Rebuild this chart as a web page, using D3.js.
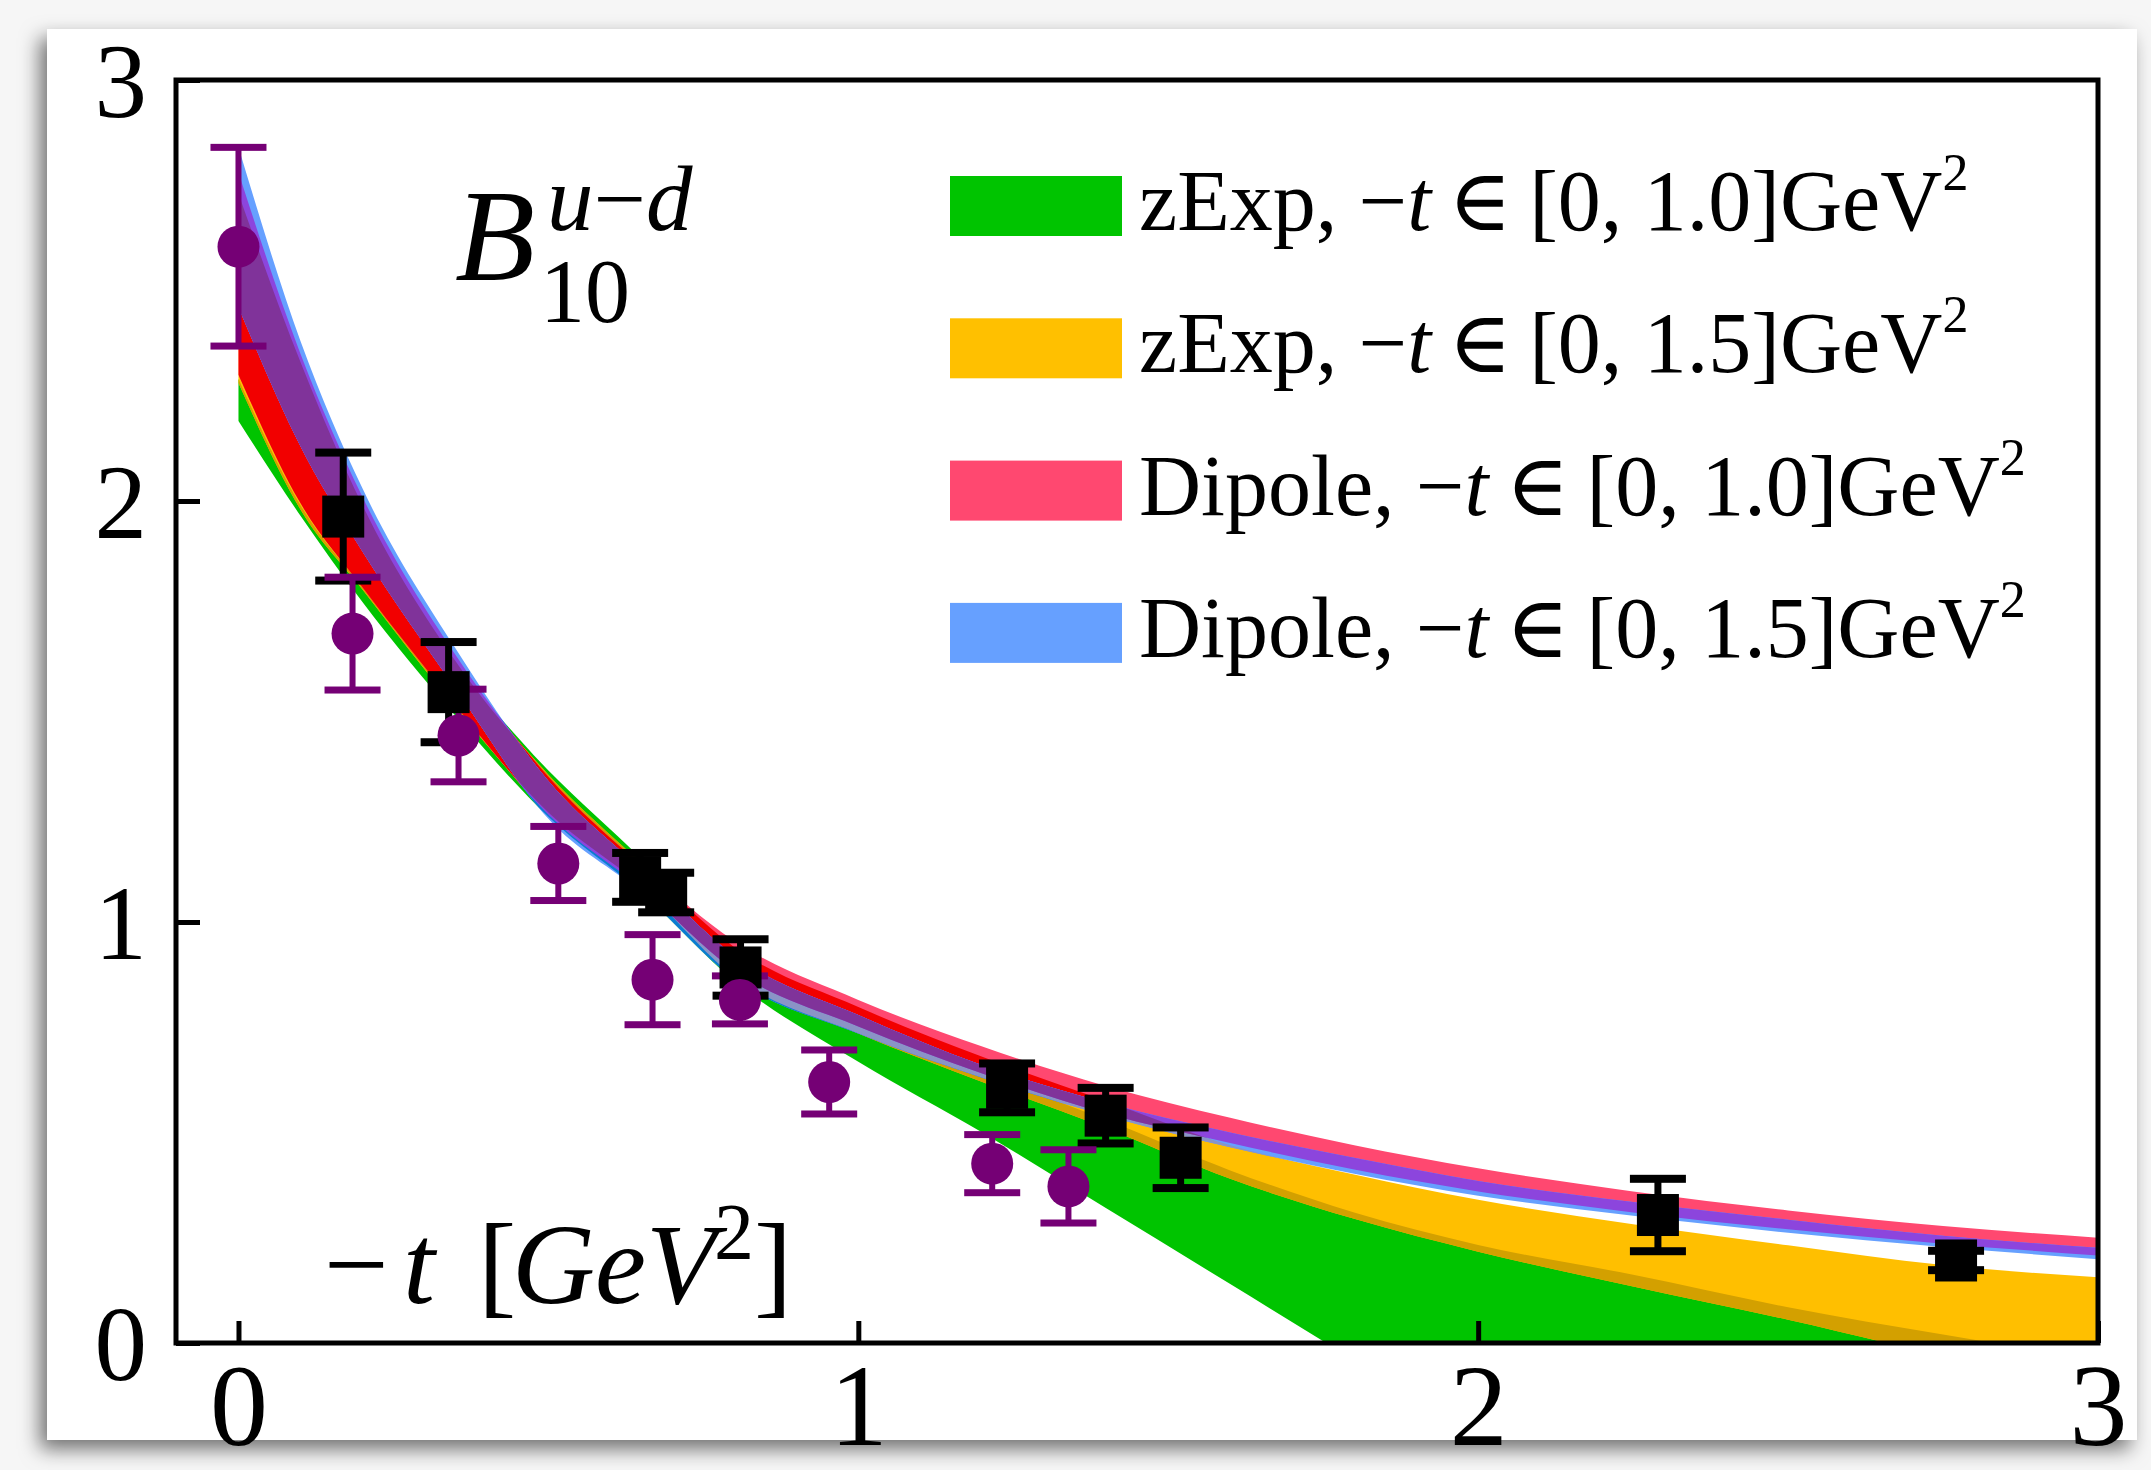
<!DOCTYPE html>
<html>
<head>
<meta charset="utf-8">
<script src="https://cdn.jsdelivr.net/npm/d3@7"></script>
<style>
  body { margin: 0; background: #f6f6f6; }
  svg { display: block; }
</style>
</head>
<body>
<div id="chart"></div>
<script>
// band grid in -t (GeV^2) and the lower / upper edges of each fit band
const tGrid    = [0, 0.1, 0.2, 0.35, 0.5, 0.65, 0.8, 1.0, 1.2, 1.4, 1.6, 1.8, 2.0, 2.25, 2.5, 2.75, 3.0];
const greenLo  = [2.19, 1.965, 1.76, 1.49, 1.25, 1.07, 0.86, 0.668, 0.50, 0.32, 0.14, -0.04, -0.21, -0.43, -0.65, -0.87, -1.09];
const greenHi  = [2.29, 1.99, 1.80, 1.60, 1.36, 1.15, 0.92, 0.76, 0.64, 0.53, 0.41, 0.31, 0.233, 0.162, 0.085, 0.02, -0.04];
const orangeLo = [2.28, 1.98, 1.79, 1.51, 1.26, 1.085, 0.87, 0.735, 0.62, 0.51, 0.39, 0.295, 0.217, 0.134, 0.055, -0.03, -0.1];
const orangeHi = [2.73, 2.33, 1.99, 1.62, 1.35, 1.14, 0.94, 0.798, 0.68, 0.575, 0.47, 0.40, 0.34, 0.282, 0.232, 0.185, 0.156];
const pinkLo   = [2.30, 1.995, 1.795, 1.515, 1.255, 1.08, 0.885, 0.752, 0.64, 0.545, 0.475, 0.412, 0.36, 0.31, 0.27, 0.236, 0.208];
const pinkHi   = [2.78, 2.35, 2.01, 1.635, 1.345, 1.135, 0.955, 0.815, 0.704, 0.61, 0.535, 0.47, 0.415, 0.36, 0.315, 0.278, 0.25];
const blueLo   = [2.46, 2.13, 1.88, 1.555, 1.245, 1.07, 0.865, 0.735, 0.63, 0.54, 0.465, 0.402, 0.35, 0.302, 0.262, 0.228, 0.199];
const blueHi   = [2.84, 2.38, 2.03, 1.65, 1.335, 1.125, 0.92, 0.779, 0.66, 0.57, 0.50, 0.44, 0.385, 0.335, 0.293, 0.255, 0.226];

// lattice points (purple circles)
const circT   = [0, 0.184, 0.355, 0.516, 0.668, 0.809, 0.953, 1.216, 1.339];
const circV   = [2.604, 1.685, 1.443, 1.139, 0.863, 0.815, 0.620, 0.426, 0.372];
const circErr = [0.236, 0.134, 0.11, 0.088, 0.107, 0.057, 0.076, 0.069, 0.087];

// lattice points (black squares)
const sqT   = [0.169, 0.339, 0.648, 0.690, 0.810, 1.240, 1.399, 1.520, 2.290, 2.771];
const sqV   = [1.963, 1.546, 1.106, 1.070, 0.892, 0.606, 0.540, 0.440, 0.304, 0.196];
const sqErr = [0.152, 0.119, 0.058, 0.047, 0.067, 0.058, 0.066, 0.072, 0.086, 0.023];

const xTicks = [0, 1, 2, 3];
const yTicks = [0, 1, 2, 3];

const legendLabels = ["zExp, ", "zExp, ", "Dipole, ", "Dipole, "];
const legendRanges = ["1.0", "1.5", "1.0", "1.5"];
const legendColors = ["#00c400", "#ffc000", "#ff4870", "#66a0ff"];

const W = 2151, H = 1470;
const serif = "'Liberation Serif', 'Times New Roman', 'DejaVu Serif', serif";

const svg = d3.select("#chart").append("svg")
    .attr("width", W)
    .attr("height", H);

const defs = svg.append("defs");

// drop shadow for the white card
const f = defs.append("filter").attr("id", "shadow")
    .attr("x", "-5%").attr("y", "-5%").attr("width", "110%").attr("height", "112%");
f.append("feDropShadow")
    .attr("dx", -7).attr("dy", 9).attr("stdDeviation", 10)
    .attr("flood-color", "#000").attr("flood-opacity", 0.55);

svg.append("rect")
    .attr("x", 47).attr("y", 29)
    .attr("width", 2090).attr("height", 1411)
    .attr("fill", "#fff")
    .attr("filter", "url(#shadow)");

// scales
const x = d3.scaleLinear().domain([-0.1008, 3]).range([176, 2098]);
const y = d3.scaleLinear().domain([0, 3]).range([1343, 80]);

const area = d3.area()
    .x(d => x(d.t))
    .y0(d => y(d.lo))
    .y1(d => y(d.hi))
    .curve(d3.curveMonotoneX);

function rows(lo, hi) {
  return tGrid.map((t, i) => ({ t: t, lo: lo[i], hi: hi[i] }));
}
const bands = {
  green: rows(greenLo, greenHi),
  orange: rows(orangeLo, orangeHi),
  pink: rows(pinkLo, pinkHi),
  blue: rows(blueLo, blueHi)
};

defs.append("clipPath").attr("id", "plot-clip")
  .append("rect")
    .attr("x", x.range()[0]).attr("y", y(3))
    .attr("width", x.range()[1] - x.range()[0])
    .attr("height", y(0) - y(3));

Object.keys(bands).forEach(k => {
  defs.append("clipPath").attr("id", "clip-" + k)
    .append("path").attr("d", area(bands[k]));
});

const plot = svg.append("g").attr("clip-path", "url(#plot-clip)");

// draw a band, optionally only where it overlaps other bands
function layer(key, color, within) {
  let parent = plot;
  within.forEach(w => {
    parent = parent.append("g").attr("clip-path", "url(#clip-" + w + ")");
  });
  parent.append("path")
      .attr("d", area(bands[key]))
      .attr("fill", color);
}

layer("green", "#00c400", []);
layer("orange", "#ffbf00", []);
layer("orange", "#d3a000", ["green"]);
layer("pink", "#ff4870", []);
layer("pink", "#f20000", ["orange"]);
layer("blue", "#66a0ff", []);
layer("blue", "#0a7dd0", ["green"]);
layer("blue", "#8a94c6", ["orange"]);
layer("blue", "#8c45dd", ["pink"]);
layer("blue", "#80339a", ["pink", "orange"]);

// error bars + markers
function errorBars(ts, vs, es, color, stem, capH) {
  const g = svg.append("g").attr("fill", color);
  ts.forEach((t, i) => {
    const cx = x(t), top = y(vs[i] + es[i]), bot = y(vs[i] - es[i]);
    g.append("rect").attr("x", cx - stem / 2).attr("y", top)
        .attr("width", stem).attr("height", bot - top);
    [top, bot].forEach(yy => {
      g.append("rect").attr("x", cx - 28).attr("y", yy - capH / 2)
          .attr("width", 56).attr("height", capH);
    });
  });
}

errorBars(sqT, sqV, sqErr, "#000", 7, 8);
errorBars(circT, circV, circErr, "#750075", 6, 7);

svg.append("g").selectAll("rect")
  .data(sqT)
  .join("rect")
    .attr("x", (d) => x(d) - 21)
    .attr("y", (d, i) => y(sqV[i]) - 21)
    .attr("width", 42).attr("height", 42)
    .attr("fill", "#000");

svg.append("g").selectAll("circle")
  .data(circT)
  .join("circle")
    .attr("cx", d => x(d))
    .attr("cy", (d, i) => y(circV[i]))
    .attr("r", 21)
    .attr("fill", "#750075");

// axes (inward ticks)
const yAxis = svg.append("g")
    .attr("transform", `translate(${x.range()[0]},0)`)
    .call(d3.axisLeft(y).tickValues(yTicks).tickSize(-24).tickPadding(29).tickFormat(d3.format("d")));
yAxis.select(".domain").remove();
yAxis.selectAll("line").attr("stroke-width", 5);
yAxis.selectAll("text")
    .attr("font-family", serif).attr("font-size", 105).attr("fill", "#000")
    .attr("dy", "0.35em");

const xAxis = svg.append("g")
    .attr("transform", `translate(0,${y(0)})`)
    .call(d3.axisBottom(x).tickValues(xTicks).tickSize(-22).tickFormat(d3.format("d")));
xAxis.select(".domain").remove();
xAxis.selectAll("line").attr("stroke-width", 5);
xAxis.selectAll("text")
    .attr("font-family", serif).attr("font-size", 116).attr("fill", "#000")
    .attr("y", 102).attr("dy", 0);

// frame
svg.append("rect")
    .attr("x", x.range()[0]).attr("y", y(3))
    .attr("width", x.range()[1] - x.range()[0])
    .attr("height", y(0) - y(3))
    .attr("fill", "none")
    .attr("stroke", "#000")
    .attr("stroke-width", 5);

// B_10^{u-d}
const bl = svg.append("text").attr("font-family", serif).attr("fill", "#000");
bl.append("tspan").attr("x", 455).attr("y", 280).attr("font-size", 131).attr("font-style", "italic").text("B");
const sup = bl.append("tspan").attr("x", 547).attr("y", 230).attr("font-size", 93);
sup.append("tspan").attr("font-style", "italic").text("u");
sup.append("tspan").text("\u2212");
sup.append("tspan").attr("font-style", "italic").text("d");
bl.append("tspan").attr("x", 540).attr("y", 322).attr("font-size", 90).text("10");

// -t [GeV^2]
const xl = svg.append("text").attr("font-family", serif).attr("fill", "#000").attr("font-size", 115);
xl.append("tspan").attr("x", 324).attr("y", 1303).text("\u2212");
xl.append("tspan").attr("x", 403).attr("y", 1303).attr("font-style", "italic").text("t");
xl.append("tspan").attr("x", 478).attr("y", 1303).text("[");
xl.append("tspan").attr("x", 512).attr("y", 1303).attr("font-style", "italic").text("GeV");
xl.append("tspan").attr("x", 714).attr("y", 1259).attr("font-size", 80).text("2");
xl.append("tspan").attr("x", 754).attr("y", 1303).text("]");

// legend
const leg = svg.append("g");
legendColors.forEach((c, i) => {
  const top = 176 + i * 142.3;
  leg.append("rect")
      .attr("x", 950).attr("y", top)
      .attr("width", 172).attr("height", 60)
      .attr("fill", c);
  const t = leg.append("text")
      .attr("x", 1139).attr("y", top + 54)
      .attr("font-family", serif).attr("font-size", 86).attr("fill", "#000");
  t.append("tspan").text(legendLabels[i] + "\u2212");
  t.append("tspan").attr("font-style", "italic").text("t");
  t.append("tspan").text("\u2009\u2208\u2009[0, " + legendRanges[i] + "]GeV");
  t.append("tspan").attr("dy", -40).attr("font-size", 52).text("2");
});
</script>
</body>
</html>
